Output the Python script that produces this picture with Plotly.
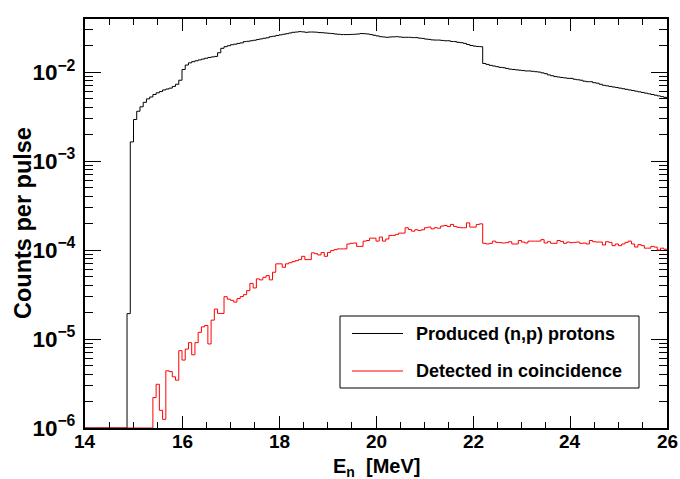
import numpy as np
import plotly.graph_objects as go

# ---- data -------------------------------------------------------------
E_MIN, E_MAX, N_BINS = 14.0, 26.0, 180
Y_FLOOR = 1e-6

series_names = ["Produced (n,p) protons", "Detected in coincidence"]

produced = [
    0, 0, 0, 0, 0, 0, 0, 0, 0, 0,
    0, 0, 0, 1.93e-5, 1.64e-3, 2.93e-3, 3.63e-3, 4.07e-3, 4.57e-3, 5.0e-3,
    5.25e-3, 5.6e-3, 5.85e-3, 6.04e-3, 6.3e-3, 6.45e-3, 6.6e-3, 6.9e-3, 7.3e-3, 8.1e-3,
    1.07e-2, 1.20e-2, 1.27e-2, 1.31e-2, 1.34e-2, 1.37e-2, 1.40e-2, 1.43e-2, 1.46e-2, 1.48e-2,
    1.50e-2, 1.65e-2, 1.85e-2, 1.93e-2, 1.98e-2, 2.03e-2, 2.06e-2, 2.10e-2, 2.13e-2, 2.20e-2,
    2.22e-2, 2.25e-2, 2.28e-2, 2.32e-2, 2.36e-2, 2.40e-2, 2.43e-2, 2.50e-2, 2.53e-2, 2.58e-2,
    2.62e-2, 2.66e-2, 2.70e-2, 2.75e-2, 2.80e-2, 2.82e-2, 2.85e-2, 2.83e-2, 2.80e-2, 2.82e-2,
    2.82e-2, 2.81e-2, 2.78e-2, 2.77e-2, 2.75e-2, 2.73e-2, 2.71e-2, 2.68e-2, 2.66e-2, 2.64e-2,
    2.64e-2, 2.64e-2, 2.65e-2, 2.66e-2, 2.68e-2, 2.71e-2, 2.70e-2, 2.68e-2, 2.64e-2, 2.59e-2,
    2.55e-2, 2.50e-2, 2.48e-2, 2.46e-2, 2.48e-2, 2.49e-2, 2.50e-2, 2.48e-2, 2.46e-2, 2.46e-2,
    2.46e-2, 2.44e-2, 2.44e-2, 2.41e-2, 2.39e-2, 2.35e-2, 2.33e-2, 2.30e-2, 2.29e-2, 2.29e-2,
    2.27e-2, 2.25e-2, 2.25e-2, 2.21e-2, 2.20e-2, 2.16e-2, 2.14e-2, 2.10e-2, 2.04e-2, 1.99e-2,
    1.96e-2, 1.94e-2, 1.93e-2, 1.25e-2, 1.22e-2, 1.19e-2, 1.17e-2, 1.15e-2, 1.13e-2, 1.12e-2,
    1.10e-2, 1.08e-2, 1.07e-2, 1.06e-2, 1.05e-2, 1.04e-2, 1.03e-2, 1.03e-2, 1.02e-2, 1.01e-2,
    1.00e-2, 9.8e-3, 9.6e-3, 9.3e-3, 9.1e-3, 8.9e-3, 8.8e-3, 8.7e-3, 8.6e-3, 8.5e-3,
    8.5e-3, 8.3e-3, 8.2e-3, 8.1e-3, 7.9e-3, 7.8e-3, 7.8e-3, 7.6e-3, 7.5e-3, 7.3e-3,
    7.1e-3, 7.0e-3, 6.9e-3, 6.8e-3, 6.7e-3, 6.6e-3, 6.5e-3, 6.4e-3, 6.3e-3, 6.2e-3,
    6.1e-3, 6.0e-3, 5.9e-3, 5.8e-3, 5.7e-3, 5.6e-3, 5.5e-3, 5.4e-3, 5.3e-3, 5.2e-3,
]

detected = [
    0, 0, 0, 0, 0, 0, 0, 0, 0, 0,
    0, 0, 0, 0, 0, 0, 0, 0, 0, 0,
    0, 2.2e-6, 3.1e-6, 1.58e-6, 1.25e-6, 4.4e-6, 4.3e-6, 3.76e-6, 3.45e-6, 7.4e-6,
    5.8e-6, 7.7e-6, 9.1e-6, 6.65e-6, 9.1e-6, 1.19e-5, 1.37e-5, 1.42e-5, 8.8e-6, 1.63e-5,
    2.17e-5, 1.94e-5, 1.94e-5, 2.99e-5, 2.8e-5, 2.72e-5, 2.6e-5, 2.85e-5, 3.0e-5, 3.15e-5,
    3.5e-5, 4.22e-5, 3.75e-5, 4.74e-5, 4.62e-5, 4.94e-5, 5.16e-5, 4.62e-5, 5.63e-5, 7.0e-5,
    7.0e-5, 6.4e-5, 7.0e-5, 7.2e-5, 7.4e-5, 7.6e-5, 7.8e-5, 8.5e-5, 7.8e-5, 7.8e-5,
    9.3e-5, 9.1e-5, 8.8e-5, 9.37e-5, 8.5e-5, 9.4e-5, 9.87e-5, 1.01e-4, 1.03e-4, 1.03e-4,
    1.03e-4, 1.17e-4, 1.19e-4, 1.2e-4, 1.1e-4, 1.1e-4, 1.26e-4, 1.28e-4, 1.36e-4, 1.36e-4,
    1.26e-4, 1.4e-4, 1.26e-4, 1.33e-4, 1.46e-4, 1.46e-4, 1.5e-4, 1.55e-4, 1.55e-4, 1.78e-4,
    1.7e-4, 1.63e-4, 1.69e-4, 1.66e-4, 1.69e-4, 1.78e-4, 1.81e-4, 1.73e-4, 1.78e-4, 1.76e-4,
    1.86e-4, 1.89e-4, 1.84e-4, 1.94e-4, 1.84e-4, 1.8e-4, 1.78e-4, 1.78e-4, 2.02e-4, 1.81e-4,
    1.81e-4, 1.94e-4, 1.97e-4, 1.19e-4, 1.17e-4, 1.19e-4, 1.26e-4, 1.22e-4, 1.21e-4, 1.2e-4,
    1.21e-4, 1.24e-4, 1.17e-4, 1.17e-4, 1.28e-4, 1.23e-4, 1.2e-4, 1.26e-4, 1.26e-4, 1.26e-4,
    1.26e-4, 1.31e-4, 1.2e-4, 1.24e-4, 1.19e-4, 1.19e-4, 1.28e-4, 1.25e-4, 1.19e-4, 1.23e-4,
    1.21e-4, 1.22e-4, 1.23e-4, 1.19e-4, 1.2e-4, 1.17e-4, 1.28e-4, 1.24e-4, 1.23e-4, 1.23e-4,
    1.14e-4, 1.24e-4, 1.22e-4, 1.12e-4, 1.17e-4, 1.12e-4, 1.17e-4, 1.22e-4, 1.26e-4, 1.17e-4,
    1.08e-4, 1.15e-4, 1.12e-4, 1.05e-4, 1.05e-4, 1.1e-4, 1.08e-4, 1.0e-4, 1.05e-4, 1.02e-4,
]

x_tick_values = [14, 16, 18, 20, 22, 24, 26]
x_tick_labels = ["14", "16", "18", "20", "22", "24", "26"]
x_title = "E<sub>n</sub>  [MeV]"
y_title = "Counts per pulse"
colors = ["black", "red"]

# ---- figure -----------------------------------------------------------
edges = np.linspace(E_MIN, E_MAX, N_BINS + 1)


def step_xy(vals):
    v = np.maximum(np.asarray(vals, dtype=float), Y_FLOOR)  # empty bins drawn at axis minimum
    return np.append(edges[:-1], edges[-1]), np.append(v, v[-1])


FONT = "Liberation Sans"
fig = go.Figure()
for name, vals, col in zip(series_names, [produced, detected], colors):
    xs, ys = step_xy(vals)
    fig.add_trace(go.Scatter(x=xs, y=ys, mode="lines", name=name,
                             line=dict(color=col, width=1, shape="hv"),
                             showlegend=False, hoverinfo="skip"))

W, H = 680, 479
PL, PT, PR, PB = 85, 19, 667, 428          # plot frame in pixels
pw, ph = PR - PL, PB - PT


def px(x):
    return (x - PL) / pw


def py(y):
    return (PB - y) / ph


fig.update_layout(
    width=W, height=H,
    margin=dict(l=PL, r=W - PR, t=PT, b=H - PB, autoexpand=False),
    paper_bgcolor="white", plot_bgcolor="white",
    font=dict(family=FONT, color="black"),
)
fig.update_xaxes(
    automargin=False, layer="below traces",
    range=[E_MIN, E_MAX], tickvals=x_tick_values, showticklabels=False,
    ticks="inside", ticklen=12, tickwidth=1, tickcolor="black", mirror="allticks",
    showline=True, linewidth=2, linecolor="black", showgrid=False, zeroline=False,
    minor=dict(ticks="inside", ticklen=6, dtick=0.5, tick0=14, tickcolor="black", showgrid=False),
)
fig.update_yaxes(
    automargin=False, layer="below traces",
    type="log", range=[-6, np.log10(0.0395)], dtick=1, exponentformat="power",
    ticks="inside", ticklen=16, tickwidth=1, tickcolor="black", mirror="allticks",
    showline=True, linewidth=2, linecolor="black", showgrid=False, zeroline=False,
    tickfont=dict(family=FONT, size=18, weight="bold"), ticklabelstandoff=4,
    minor=dict(ticks="inside", ticklen=8, dtick="D1", tickcolor="black", showgrid=False),
)

# x tick labels, placed on the x scale
for v, lab in zip(x_tick_values, x_tick_labels):
    fig.add_annotation(xref="x", yref="paper", x=v, y=py(441.5), text=lab,
                       showarrow=False, xanchor="center", yanchor="middle",
                       font=dict(family=FONT, size=19, weight="bold", color="black"))

# axis titles
fig.add_annotation(xref="paper", yref="paper", x=px(376), y=py(467), text=x_title,
                   showarrow=False, xanchor="center", yanchor="middle",
                   font=dict(family=FONT, size=20, weight="bold", color="black"))
fig.add_annotation(xref="paper", yref="paper", x=px(22.5), y=py(223.5), text=y_title,
                   textangle=-90, showarrow=False, xanchor="center", yanchor="middle",
                   font=dict(family=FONT, size=23.5, weight="bold", color="black"))

# ---- legend box --------------------------------------------------------
fig.add_shape(type="rect", xref="paper", yref="paper",
              x0=px(340), x1=px(639), y0=py(388), y1=py(316),
              line=dict(color="black", width=1), fillcolor="white", layer="above")
for i, (name, col) in enumerate(zip(series_names, colors)):
    yy = py(333.5 + i * 37.5)
    fig.add_shape(type="line", xref="paper", yref="paper",
                  x0=px(352), x1=px(403), y0=yy, y1=yy,
                  line=dict(color=col, width=1), layer="above")
    fig.add_annotation(xref="paper", yref="paper", x=px(414), y=yy, text=name,
                       showarrow=False, xanchor="left", yanchor="middle",
                       font=dict(family=FONT, size=18, weight="bold", color="black"))

# remove the page's default body margin so the figure fills the window exactly
fig.write_html("out.html", config={"displayModeBar": False},
               post_script="document.body.style.margin='0';document.body.style.overflow='hidden';")
